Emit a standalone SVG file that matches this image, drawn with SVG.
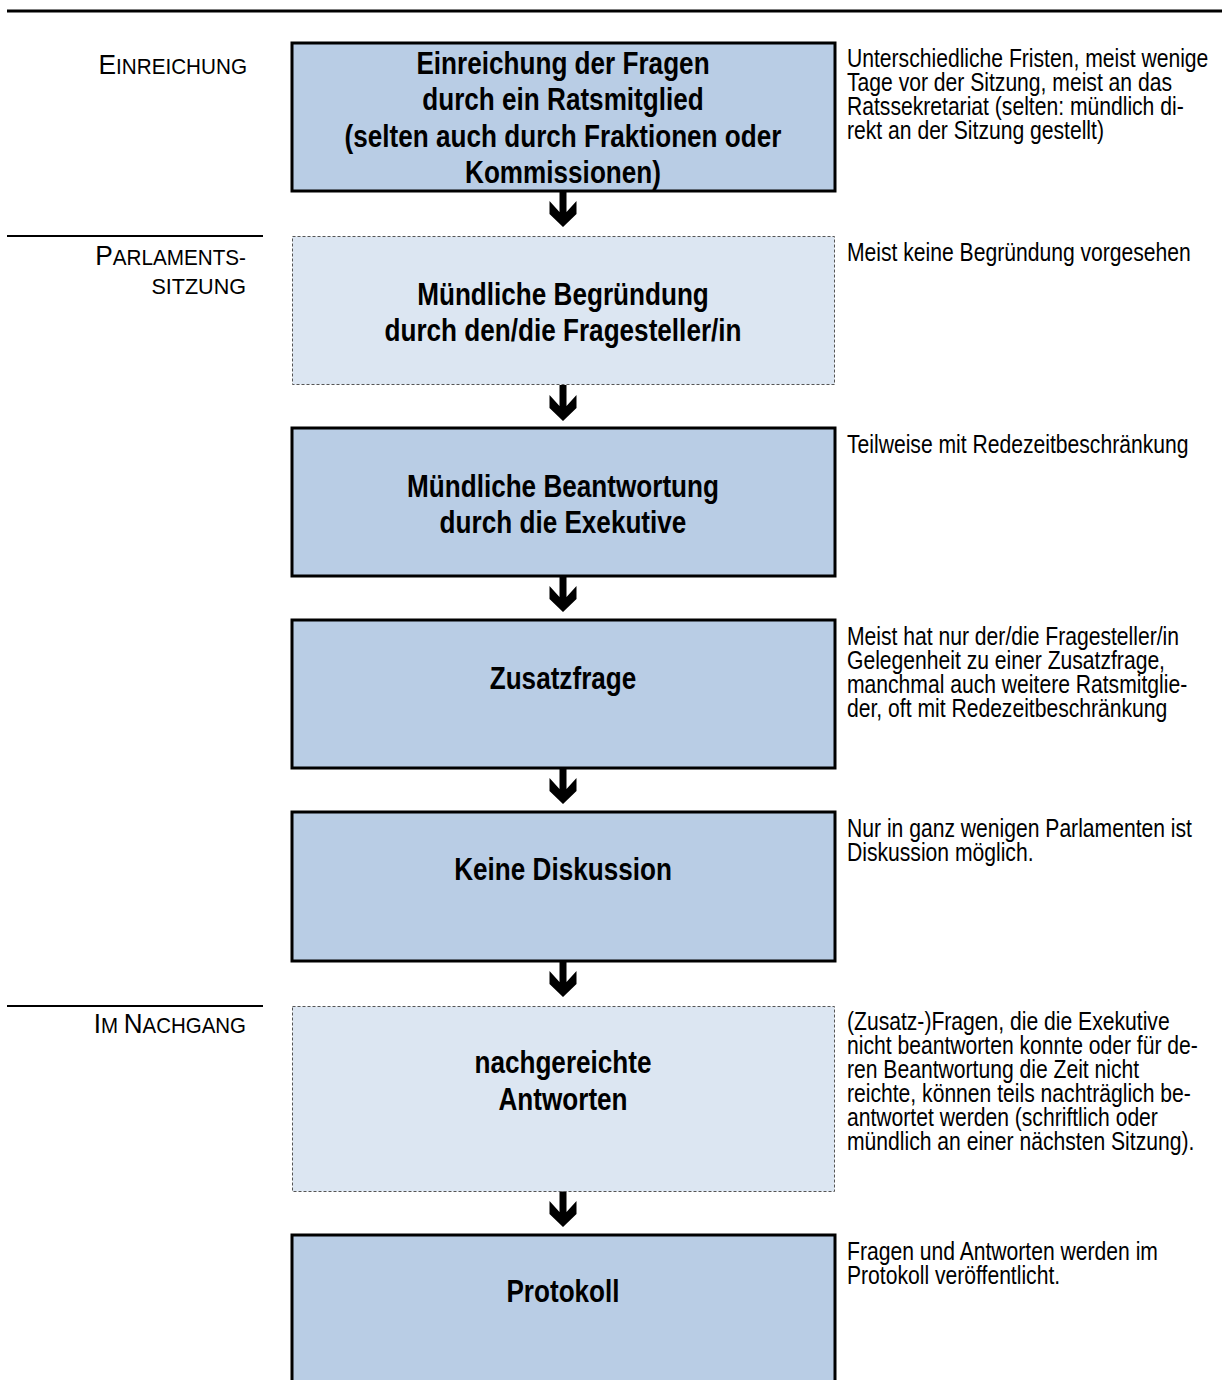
<svg xmlns="http://www.w3.org/2000/svg" width="1222" height="1380" viewBox="0 0 1222 1380">
<style>
.t{font-family:"Liberation Sans",Arial,sans-serif;fill:#000}
.n{font-size:31px;font-weight:bold;text-anchor:middle}
.r{font-size:25px}
.l{font-size:28px;text-anchor:end}
.sc{font-size:22px}
.solid{fill:#b9cde5;stroke:#000;stroke-width:3}
.dash{fill:#dce6f2;stroke:#555;stroke-width:1;stroke-dasharray:3 2}
.rule{stroke:#000;stroke-width:2}
</style>
<defs>
<path id="arr" d="M-3.5,0 H3.5 V21 L13.5,10 V23 L0,36 L-13.5,23 V10 L-3.5,21 Z" fill="#000"/>
</defs>
<g id="rules">
<line class="rule" x1="7" y1="11" x2="1222" y2="11" style="stroke-width:3"/>
<line class="rule" x1="7" y1="236" x2="263" y2="236"/>
<line class="rule" x1="7" y1="1006" x2="263" y2="1006"/>
</g>
<g id="phases">
<g transform="translate(247,0) scale(0.94,1)"><text class="t l" x="0" y="74">E<tspan class="sc">INREICHUNG</tspan></text></g>
<g transform="translate(246,0) scale(0.94,1)"><text class="t l" x="0" y="265">P<tspan class="sc">ARLAMENTS-</tspan></text></g>
<g transform="translate(246,0) scale(0.98,1)"><text class="t l sc" x="0" y="294" style="text-anchor:end">SITZUNG</text></g>
<g transform="translate(246,0) scale(0.93,1)"><text class="t l" x="0" y="1033">I<tspan class="sc">M </tspan>N<tspan class="sc">ACHGANG</tspan></text></g>
</g>
<g id="connectors">
<use href="#arr" x="563" y="191"/>
<use href="#arr" x="563" y="385"/>
<use href="#arr" x="563" y="576"/>
<use href="#arr" x="563" y="768"/>
<use href="#arr" x="563" y="961"/>
<use href="#arr" x="563" y="1191"/>
</g>
<g id="node1">
<rect class="solid" x="292" y="43" width="543" height="148"/>
<g transform="translate(563,0) scale(0.843,1)">
<text class="t n" x="0" y="74">Einreichung der Fragen</text>
<text class="t n" x="0" y="110">durch ein Ratsmitglied</text>
<text class="t n" x="0" y="147">(selten auch durch Fraktionen oder</text>
<text class="t n" x="0" y="183">Kommissionen)</text>
</g>
<g transform="translate(847,0) scale(0.845,1)">
<text class="t r" x="0" y="67">Unterschiedliche Fristen, meist wenige</text>
<text class="t r" x="0" y="91">Tage vor der Sitzung, meist an das</text>
<text class="t r" x="0" y="115">Ratssekretariat (selten: mündlich di-</text>
<text class="t r" x="0" y="139">rekt an der Sitzung gestellt)</text>
</g>
</g>
<g id="node2">
<rect class="dash" x="292.5" y="236.5" width="542" height="148"/>
<g transform="translate(563,0) scale(0.843,1)">
<text class="t n" x="0" y="305">Mündliche Begründung</text>
<text class="t n" x="0" y="341">durch den/die Fragesteller/in</text>
</g>
<g transform="translate(847,0) scale(0.845,1)">
<text class="t r" x="0" y="261">Meist keine Begründung vorgesehen</text>
</g>
</g>
<g id="node3">
<rect class="solid" x="292" y="428" width="543" height="148"/>
<g transform="translate(563,0) scale(0.843,1)">
<text class="t n" x="0" y="497">Mündliche Beantwortung</text>
<text class="t n" x="0" y="533">durch die Exekutive</text>
</g>
<g transform="translate(847,0) scale(0.845,1)">
<text class="t r" x="0" y="453">Teilweise mit Redezeitbeschränkung</text>
</g>
</g>
<g id="node4">
<rect class="solid" x="292" y="620" width="543" height="148"/>
<g transform="translate(563,0) scale(0.843,1)">
<text class="t n" x="0" y="689">Zusatzfrage</text>
</g>
<g transform="translate(847,0) scale(0.845,1)">
<text class="t r" x="0" y="645">Meist hat nur der/die Fragesteller/in</text>
<text class="t r" x="0" y="669">Gelegenheit zu einer Zusatzfrage,</text>
<text class="t r" x="0" y="693">manchmal auch weitere Ratsmitglie-</text>
<text class="t r" x="0" y="717">der, oft mit Redezeitbeschränkung</text>
</g>
</g>
<g id="node5">
<rect class="solid" x="292" y="812" width="543" height="149"/>
<g transform="translate(563,0) scale(0.843,1)">
<text class="t n" x="0" y="880">Keine Diskussion</text>
</g>
<g transform="translate(847,0) scale(0.845,1)">
<text class="t r" x="0" y="837">Nur in ganz wenigen Parlamenten ist</text>
<text class="t r" x="0" y="861">Diskussion möglich.</text>
</g>
</g>
<g id="node6">
<rect class="dash" x="292.5" y="1006.5" width="542" height="185"/>
<g transform="translate(563,0) scale(0.843,1)">
<text class="t n" x="0" y="1073">nachgereichte</text>
<text class="t n" x="0" y="1110">Antworten</text>
</g>
<g transform="translate(847,0) scale(0.845,1)">
<text class="t r" x="0" y="1030">(Zusatz-)Fragen, die die Exekutive</text>
<text class="t r" x="0" y="1054">nicht beantworten konnte oder für de-</text>
<text class="t r" x="0" y="1078">ren Beantwortung die Zeit nicht</text>
<text class="t r" x="0" y="1102">reichte, können teils nachträglich be-</text>
<text class="t r" x="0" y="1126">antwortet werden (schriftlich oder</text>
<text class="t r" x="0" y="1150">mündlich an einer nächsten Sitzung).</text>
</g>
</g>
<g id="node7">
<rect class="solid" x="292" y="1235" width="543" height="170"/>
<g transform="translate(563,0) scale(0.843,1)">
<text class="t n" x="0" y="1302">Protokoll</text>
</g>
<g transform="translate(847,0) scale(0.845,1)">
<text class="t r" x="0" y="1260">Fragen und Antworten werden im</text>
<text class="t r" x="0" y="1284">Protokoll veröffentlicht.</text>
</g>
</g>
</svg>
